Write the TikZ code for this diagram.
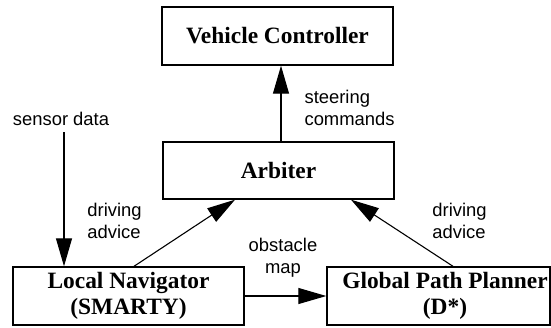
\documentclass[tikz,border=0pt]{standalone}
\usepackage{fontspec}
\setmainfont{Liberation Serif}
\setsansfont{Liberation Sans}
\usepackage{tikz}
\usetikzlibrary{arrows.meta}

\begin{document}
\begin{tikzpicture}
        [x=1pt,y=-1pt,line width=1.1pt,
         box/.style={draw,line width=1.4pt,rectangle,inner sep=0pt,align=center,
            font=\fontsize{23.4}{26}\selectfont\bfseries},
         lbl/.style={inner sep=0pt,align=left,font=\fontsize{18.4}{22}\selectfont\sffamily},
         >={Triangle[length=28pt,width=16pt]}]
        \useasboundingbox (0,0) rectangle (551,327);

        \node[box,minimum width=231pt,minimum height=58pt] (vc) at (277.5,36) {Vehicle Controller};
        \node[box,minimum width=231pt,minimum height=57pt] (arb) at (278.5,170.5) {Arbiter};
        \node[box,minimum width=231pt,minimum height=58pt] (lnav) at (128.5,296) {Local Navigator\\(SMARTY)};
        \node[box,minimum width=223pt,minimum height=58pt] (gpp) at (438.5,296)
            {\hspace*{13pt}Global Path Planner\\\hspace*{13pt}(D*)};
        \coordinate (sens) at (64,132);

        \node[lbl] (sensdata) at (61,119) {sensor data};
        \node[lbl,anchor=west] (steer) at (304,108) {steering\\commands};
        \node[lbl] (advl) at (114.5,221) {driving\\advice};
        \node[lbl] (advr) at (459.5,221) {driving\\advice};
        \node[lbl,align=center] (obst) at (283,257.5) {obstacle\\map};

        \path [->] (sens) edge (sens |- lnav.north);
        \path [->] ([xshift=2.5pt]arb.north) edge ([xshift=3.5pt]vc.south);
        \path [->] ([xshift=5.5pt]lnav.north) edge ([xshift=-43.5pt]arb.south);
        \path [->] ([xshift=14.5pt]gpp.north) edge ([xshift=72.5pt]arb.south);
        \path [->] (lnav.east) edge (gpp.west);

    \end{tikzpicture}
\end{document}
